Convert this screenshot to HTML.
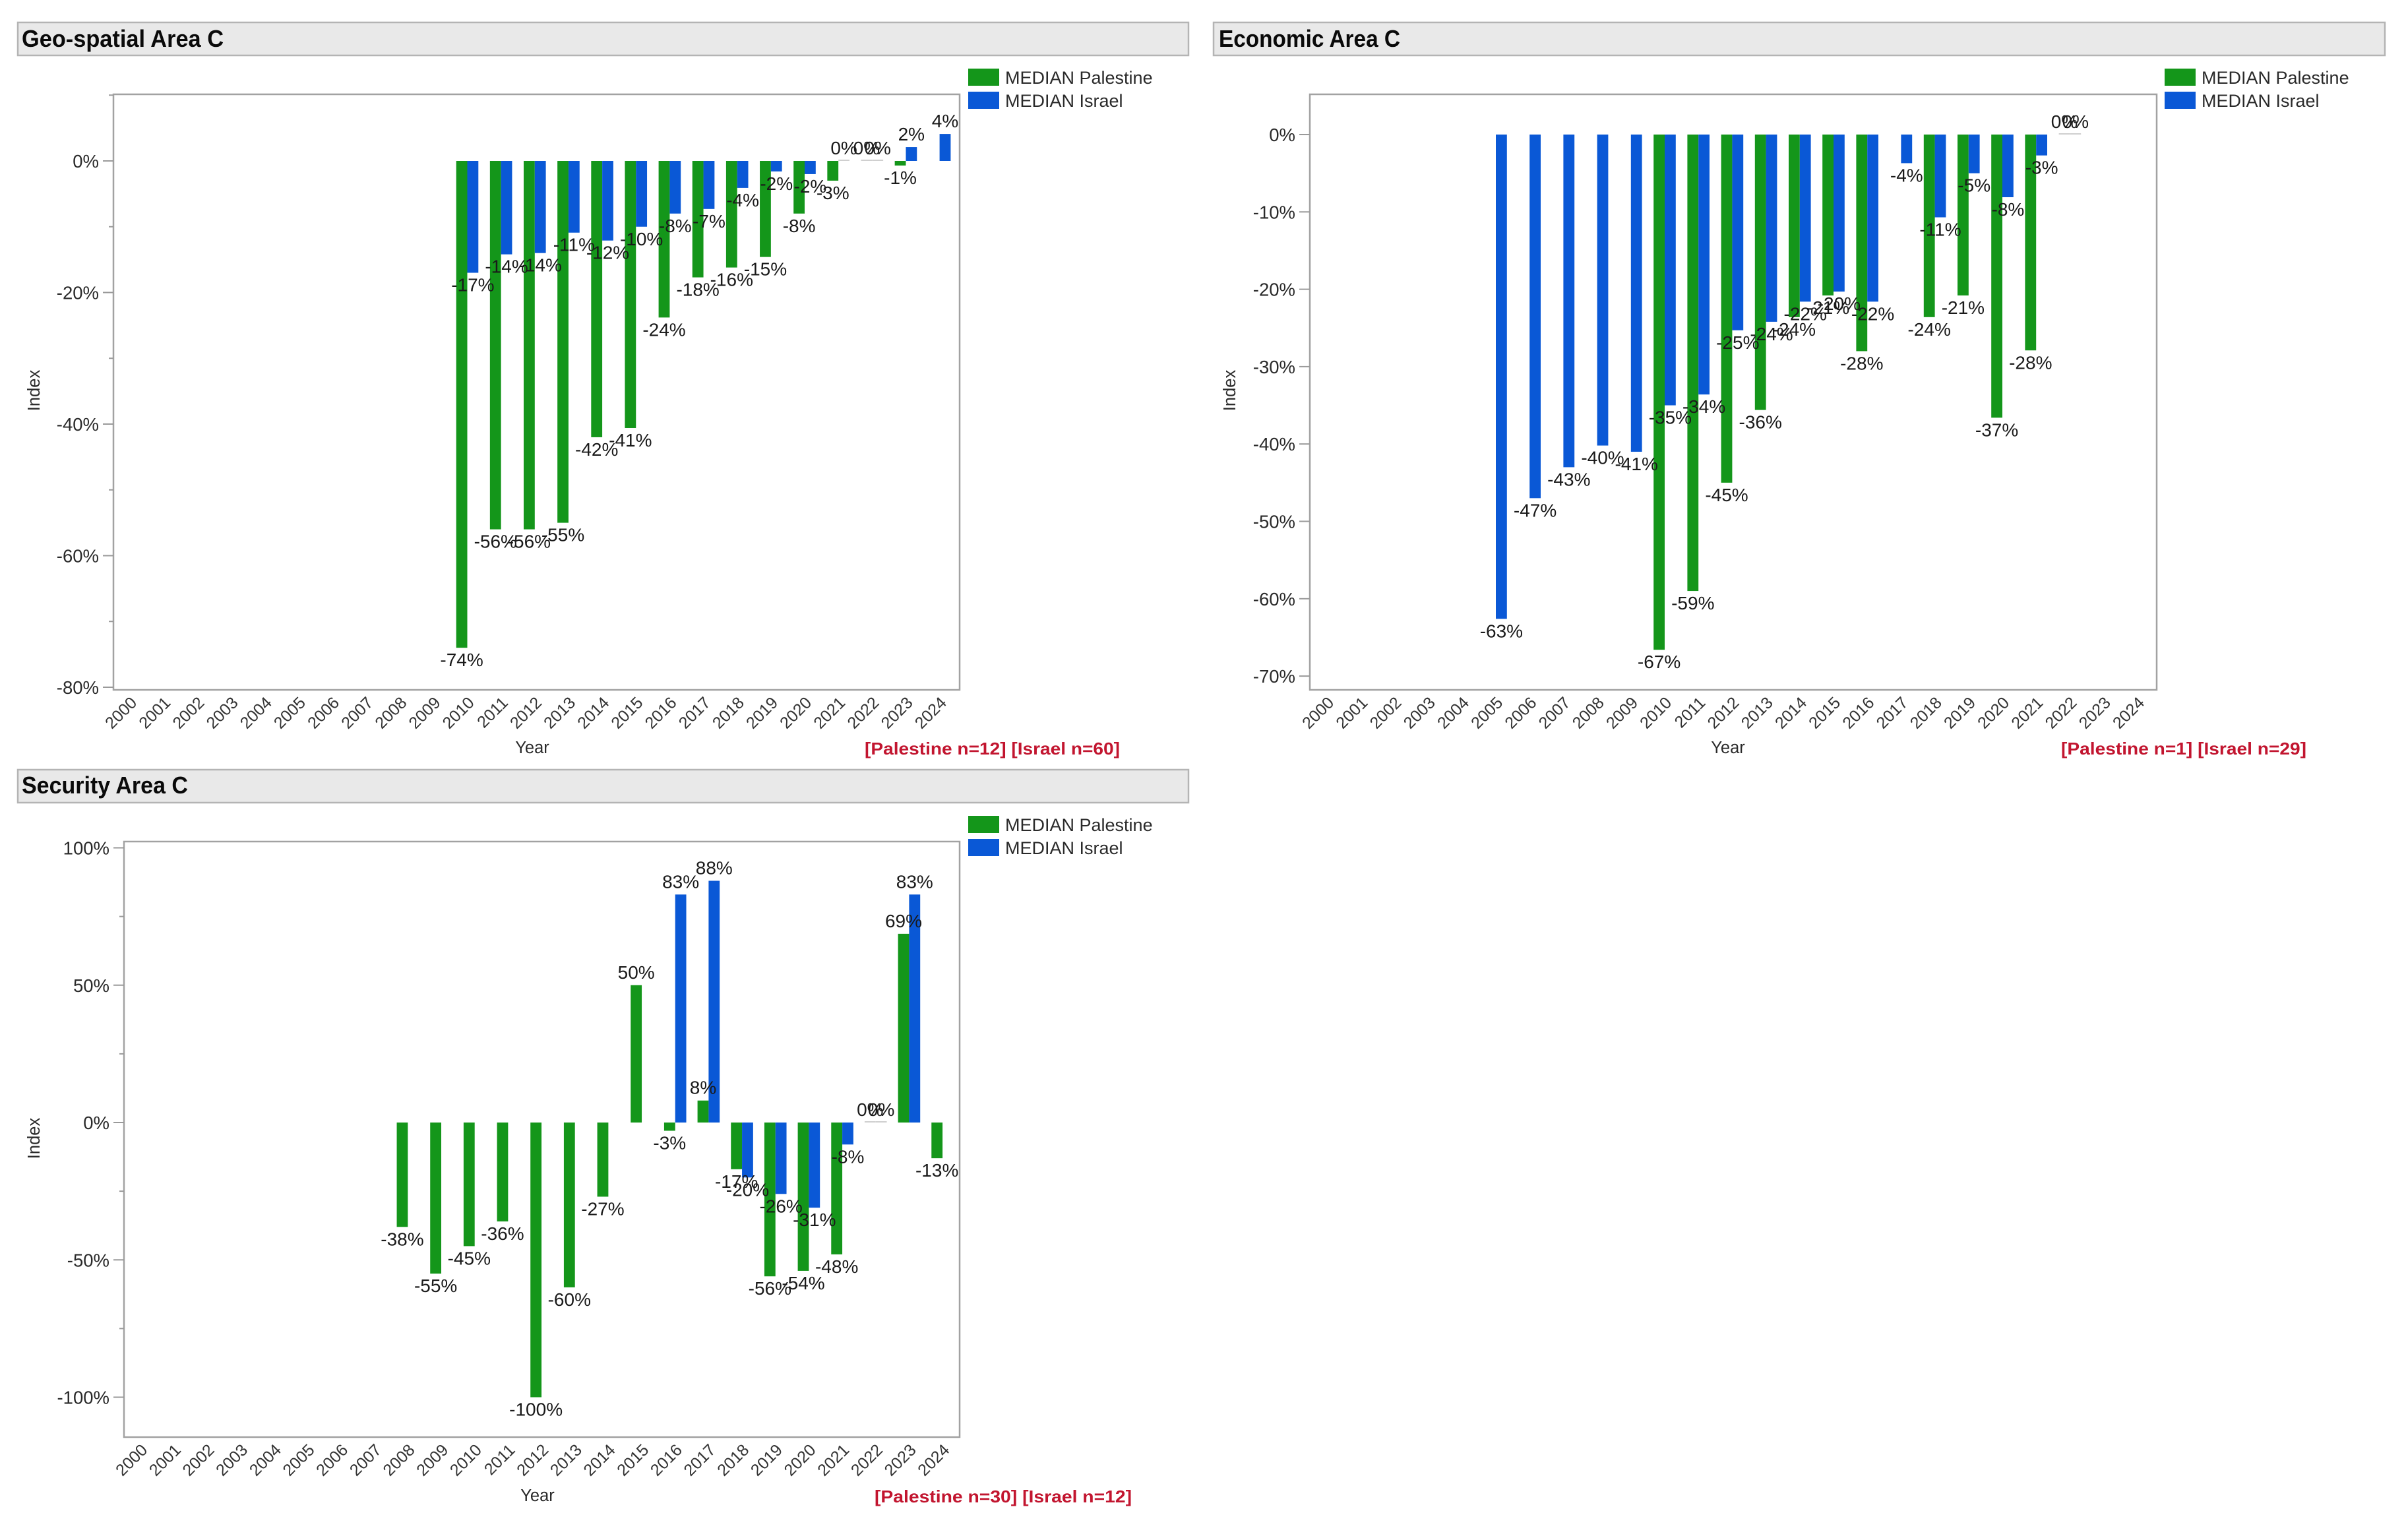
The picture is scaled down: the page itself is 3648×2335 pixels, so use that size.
<!DOCTYPE html>
<html lang="en">
<head>
<meta charset="utf-8">
<title>Area C median index charts</title>
<style>
  html, body { margin: 0; padding: 0; background: #ffffff; }
  svg { display: block; font-family: "Liberation Sans", Arial, sans-serif; }
  .header { fill: #e9e9e9; stroke: #b4b4b4; stroke-width: 2.5; }
  .title { font-size: 36px; font-weight: 700; fill: #0a0a0a; }
  .plot { fill: #ffffff; stroke: #a2a2a2; stroke-width: 2.5; }
  .tick { stroke: #9a9a9a; stroke-width: 2; }
  .ytick { font-size: 27.5px; fill: #2a2a2a; text-anchor: end; }
  .xtick { font-size: 25px; fill: #333333; text-anchor: end; }
  .axis-title { font-size: 25.5px; fill: #2a2a2a; text-anchor: middle; }
  .legend { font-size: 27px; fill: #2a2a2a; }
  .note { font-size: 26px; font-weight: 700; fill: #c2152f; }
  .value { font-size: 28px; fill: #1a1a1a; text-anchor: middle; }
  .pal { fill: #14961a; }
  .isr { fill: #0a58d6; }
  .zero { stroke: #cfcfcf; stroke-width: 2; }
</style>
</head>
<body>
<svg id="root" xmlns="http://www.w3.org/2000/svg" width="3648" height="2335" viewBox="0 0 3648 2335">
  <rect width="3648" height="2335" fill="#ffffff"/>

  <g id="chart-geo">
    <rect class="header" x="27" y="34" width="1775" height="50"/>
    <text class="title" x="33" y="71" textLength="306" lengthAdjust="spacingAndGlyphs">Geo-spatial Area C</text>
    <rect class="plot" x="172" y="143" width="1283" height="903"/>
    <rect class="pal" x="1468" y="104" width="47" height="26"/>
    <text class="legend" x="1524" y="127">MEDIAN Palestine</text>
    <rect class="isr" x="1468" y="139" width="47" height="26"/>
    <text class="legend" x="1524" y="162">MEDIAN Israel</text>
    <text class="axis-title" x="807" y="1142">Year</text>
    <text class="axis-title" transform="translate(60 592) rotate(-90)">Index</text>
    <text class="note" x="1311" y="1144" textLength="387" lengthAdjust="spacingAndGlyphs">[Palestine n=12] [Israel n=60]</text>
  </g>

  <g id="chart-econ">
    <rect class="header" x="1840" y="34" width="1776" height="50"/>
    <text class="title" x="1848" y="71" textLength="275" lengthAdjust="spacingAndGlyphs">Economic Area C</text>
    <rect class="plot" x="1986" y="143" width="1284" height="903"/>
    <rect class="pal" x="3282" y="104" width="47" height="26"/>
    <text class="legend" x="3338" y="127">MEDIAN Palestine</text>
    <rect class="isr" x="3282" y="139" width="47" height="26"/>
    <text class="legend" x="3338" y="162">MEDIAN Israel</text>
    <text class="axis-title" x="2620" y="1142">Year</text>
    <text class="axis-title" transform="translate(1873 592) rotate(-90)">Index</text>
    <text class="note" x="3125" y="1144" textLength="372" lengthAdjust="spacingAndGlyphs">[Palestine n=1] [Israel n=29]</text>
  </g>

  <g id="chart-sec">
    <rect class="header" x="27" y="1167" width="1775" height="50"/>
    <text class="title" x="33" y="1203" textLength="252" lengthAdjust="spacingAndGlyphs">Security Area C</text>
    <rect class="plot" x="188" y="1276" width="1267" height="903"/>
    <rect class="pal" x="1468" y="1237" width="47" height="26"/>
    <text class="legend" x="1524" y="1260">MEDIAN Palestine</text>
    <rect class="isr" x="1468" y="1272" width="47" height="26"/>
    <text class="legend" x="1524" y="1295">MEDIAN Israel</text>
    <text class="axis-title" x="815" y="2276">Year</text>
    <text class="axis-title" transform="translate(60 1726) rotate(-90)">Index</text>
    <text class="note" x="1326" y="2278" textLength="390" lengthAdjust="spacingAndGlyphs">[Palestine n=30] [Israel n=12]</text>
  </g>
</svg>

<script>
var years = [2000,2001,2002,2003,2004,2005,2006,2007,2008,2009,2010,2011,2012,2013,2014,2015,2016,2017,2018,2019,2020,2021,2022,2023,2024];

var geoPalestine = [null,null,null,null,null,null,null,null,null,null,-74,-56,-56,-55,-42,-40.6,-23.8,-17.7,-16.2,-14.6,-8,-3,0,-0.7,null];
var geoIsrael = [null,null,null,null,null,null,null,null,null,null,-17,-14.2,-14,-10.9,-12.1,-10,-8,-7.3,-4.1,-1.6,-2,0,0,2.1,4.1];
var geoMajorTicks = [0,-20,-40,-60,-80];
var geoMinorTicks = [10,-10,-30,-50,-70];

var econPalestine = [null,null,null,null,null,null,null,null,null,null,-66.6,-59,-45,-35.6,-23.6,-20.8,-28,null,-23.6,-20.8,-36.6,-27.9,0,null,null];
var econIsrael = [null,null,null,null,null,-62.6,-47,-43,-40.2,-41,-35,-33.6,-25.3,-24.2,-21.6,-20.3,-21.6,-3.7,-10.7,-5,-8.1,-2.7,0,null,null];
var econMajorTicks = [0,-10,-20,-30,-40,-50,-60,-70];
var econMinorTicks = [];

var secPalestine = [null,null,null,null,null,null,null,null,-38,-55,-45,-36,-100,-60,-27,50,-3,8,-17,-56,-54,-48,0,68.7,-13];
var secIsrael = [null,null,null,null,null,null,null,null,null,null,null,null,null,null,null,null,83,88,-20,-26,-31,-8,0,83,null];
var secMajorTicks = [100,50,0,-50,-100];
var secMinorTicks = [75,25,-25,-75];

var SVGNS = 'http://www.w3.org/2000/svg';

function make(tag, cls, parent) {
  var el = document.createElementNS(SVGNS, tag);
  if (cls) el.setAttribute('class', cls);
  parent.appendChild(el);
  return el;
}

function drawChart(groupId, prefix, pal, isr, majors, minors, g) {
  var group = document.getElementById(groupId);
  var xCenter = function (i) { return g.x0 + i * g.step; };
  var yScale = function (v) { return g.zeroY - v * g.pxPerUnit; };

  majors.forEach(function (t) {
    var tick = make('line', 'tick', group);
    
    
    tick.setAttribute('x1', g.left - 16);
    tick.setAttribute('x2', g.left);
    tick.setAttribute('y1', yScale(t));
    tick.setAttribute('y2', yScale(t));
    var label = make('text', 'ytick', group);
    
    
    label.setAttribute('x', g.left - 22);
    label.setAttribute('y', yScale(t) + 10);
    label.textContent = t + '%';
  });

  minors.forEach(function (t) {
    var tick = make('line', 'tick', group);
    
    
    tick.setAttribute('x1', g.left - 7);
    tick.setAttribute('x2', g.left);
    tick.setAttribute('y1', yScale(t));
    tick.setAttribute('y2', yScale(t));
  });

  years.forEach(function (yr, i) {
    var label = make('text', 'xtick', group);
    
    
    var px = xCenter(i) + 12;
    var py = g.bottom + 21;
    label.setAttribute('transform', 'translate(' + px + ' ' + py + ') rotate(-45)');
    label.textContent = yr;
  });

  var labels = [];
  function drawSeries(values, cls, seriesName, offset) {
    values.forEach(function (v, i) {
      if (v === null) return;
      var bx = xCenter(i) + offset;
      var y0 = yScale(0);
      var yv = yScale(v);
      if (v === 0) {
        var zl = make('line', 'zero', group);
        
        
        zl.setAttribute('x1', bx);
        zl.setAttribute('x2', bx + g.barW);
        zl.setAttribute('y1', y0 - 1);
        zl.setAttribute('y2', y0 - 1);
      } else {
        var bar = make('rect', cls, group);
        
        
        bar.setAttribute('x', bx);
        bar.setAttribute('width', g.barW);
        bar.setAttribute('y', Math.min(y0, yv));
        bar.setAttribute('height', Math.abs(yv - y0));
      }
      labels.push({ x: bx + g.barW / 2, y: v < 0 ? yv + 28 : yv - 10, v: v, s: seriesName, yr: years[i] });
    });
  }
  drawSeries(pal, 'pal', 'palestine', -g.barW);
  drawSeries(isr, 'isr', 'israel', 0);

  labels.forEach(function (d) {
    var t = make('text', 'value', group);
    
    
    t.setAttribute('x', d.x);
    t.setAttribute('y', d.y);
    t.textContent = Math.round(d.v) + '%';
  });
}

drawChart('chart-geo', 'geo', geoPalestine, geoIsrael, geoMajorTicks, geoMinorTicks,
  { x0: 197, step: 51.15, barW: 16.8, zeroY: 244, pxPerUnit: 9.975, left: 172, bottom: 1046 });
drawChart('chart-econ', 'economic', econPalestine, econIsrael, econMajorTicks, econMinorTicks,
  { x0: 2012, step: 51.2, barW: 16.8, zeroY: 204, pxPerUnit: 11.73, left: 1986, bottom: 1046 });
drawChart('chart-sec', 'security', secPalestine, secIsrael, secMajorTicks, secMinorTicks,
  { x0: 213, step: 50.67, barW: 16.8, zeroY: 1702, pxPerUnit: 4.165, left: 188, bottom: 2179 });
</script>
</body>
</html>
